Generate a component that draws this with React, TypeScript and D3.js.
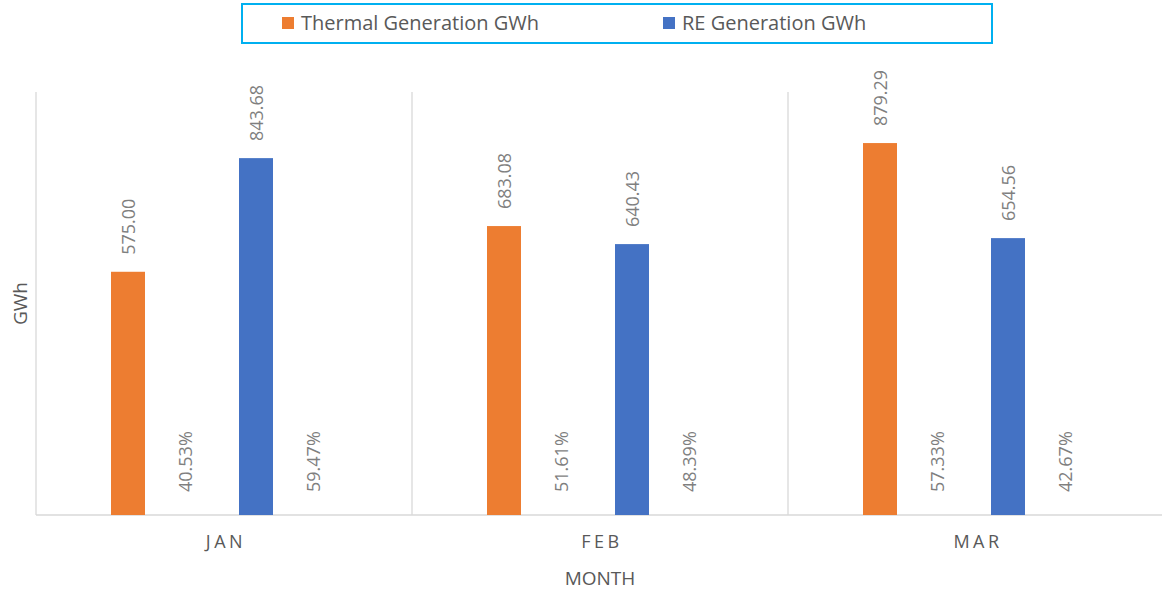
import React from "react";
import * as d3 from "d3";

const months = ["JAN", "FEB", "MAR"];
const thermalGWh = [575.0, 683.08, 879.29];
const reGWh = [843.68, 640.43, 654.56];
const thermalPct = ["40.53%", "51.61%", "57.33%"];
const rePct = ["59.47%", "48.39%", "42.67%"];
const seriesKeys = ["thermal", "thermalPct", "re", "rePct"];
const legendItems = [
  { name: "Thermal Generation GWh", color: "#ED7D31" },
  { name: "RE Generation GWh", color: "#4472C4" },
];

const W = 1162;
const H = 592;
const FONT = "'Open Sans', 'Noto Sans', sans-serif";

export default function App() {
  const left = 36;
  const right = 1164;
  const top = 92;
  const bottom = 515;

  const x = d3.scaleBand<string>().domain(months).range([left, right]).padding(0);
  const xs = d3
    .scaleBand<string>()
    .domain(seriesKeys)
    .range([0, x.bandwidth()])
    .paddingInner(30 / 64)
    .paddingOuter(1.171875);
  const y = d3.scaleLinear().domain([0, 1000]).range([bottom, top]);

  const bars: { key: string; color: string; values: number[] }[] = [
    { key: "thermal", color: "#ED7D31", values: thermalGWh },
    { key: "re", color: "#4472C4", values: reGWh },
  ];
  const pcts: { key: string; values: string[] }[] = [
    { key: "thermalPct", values: thermalPct },
    { key: "rePct", values: rePct },
  ];

  const gridX = months.map((m) => x(m)!).concat([right]);
  const labelColor = "#7F7F7F";
  const textColor = "#595959";

  return (
    <svg
      width={W}
      height={H}
      style={{ position: "absolute", left: 0, top: 0, background: "#fff" }}
      fontFamily={FONT}
    >
      <rect x={0} y={0} width={W} height={H} fill="#fff" />
      {gridX.map((gx, i) => (
        <line key={i} x1={gx} x2={gx} y1={top} y2={bottom} stroke="#D9D9D9" strokeWidth={1.3} />
      ))}
      <line x1={left} x2={right} y1={bottom} y2={bottom} stroke="#D9D9D9" strokeWidth={1.3} />

      {bars.map((s) =>
        months.map((m, i) => {
          const bx = x(m)! + xs(s.key)!;
          const v = s.values[i];
          return (
            <g key={s.key + m}>
              <rect x={bx} y={y(v)} width={xs.bandwidth()} height={bottom - y(v)} fill={s.color} />
              <text
                transform={`translate(${bx + xs.bandwidth() / 2},${y(v) - 17}) rotate(-90)`}
                dominantBaseline="central"
                textAnchor="start"
                fontSize={18}
                fill={labelColor}
              >
                {v.toFixed(2)}
              </text>
            </g>
          );
        })
      )}

      {pcts.map((s) =>
        months.map((m, i) => {
          const cx = x(m)! + xs(s.key)! + xs.bandwidth() / 2 - 7;
          return (
            <text
              key={s.key + m}
              transform={`translate(${cx},${bottom - 23}) rotate(-90)`}
              dominantBaseline="central"
              textAnchor="start"
              fontSize={18}
              fill={labelColor}
            >
              {s.values[i]}
            </text>
          );
        })
      )}

      {months.map((m) => (
        <text
          key={m}
          x={x(m)! + x.bandwidth() / 2 + 2}
          y={548}
          textAnchor="middle"
          fontSize={18}
          letterSpacing={3.5}
          fill={textColor}
        >
          {m}
        </text>
      ))}

      <text x={(left + right) / 2} y={585} textAnchor="middle" fontSize={19} fill={textColor}>
        MONTH
      </text>
      <text
        transform={`translate(20,${(top + bottom) / 2}) rotate(-90)`}
        textAnchor="middle"
        dominantBaseline="central"
        fontSize={19}
        fill={textColor}
      >
        GWh
      </text>

      <rect x={242} y={4} width={750} height={39} fill="#fff" stroke="#00B0F0" strokeWidth={2} />
      {legendItems.map((it, i) => {
        const lx = i === 0 ? 282 : 663;
        return (
          <g key={it.name}>
            <rect x={lx} y={17} width={12} height={12} fill={it.color} />
            <text x={lx + 19} y={29.5} fontSize={20} fill={textColor}>
              {it.name}
            </text>
          </g>
        );
      })}
    </svg>
  );
}
